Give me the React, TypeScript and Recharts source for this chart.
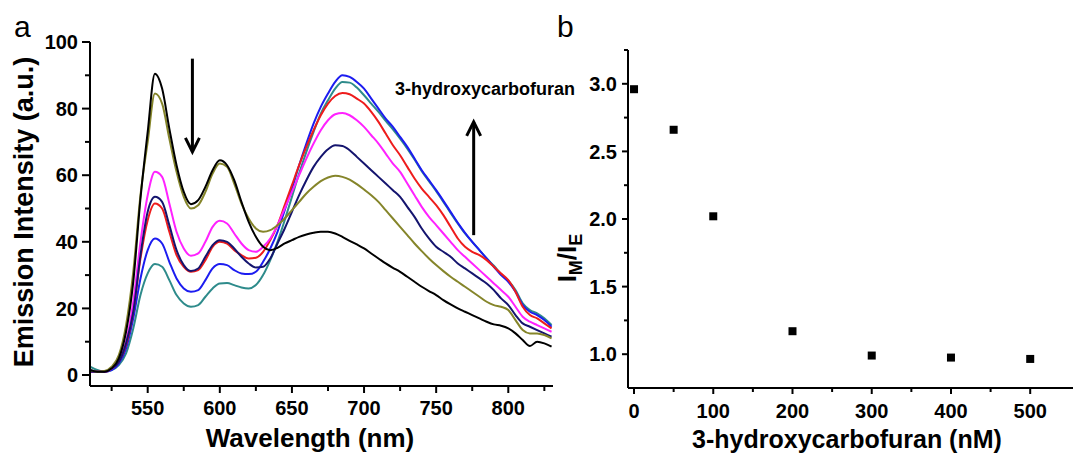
import { LineChart, Line, XAxis, YAxis, ScatterChart, Scatter, ReferenceLine } from "recharts";

const FONT = "'Liberation Sans', Arial, Helvetica, sans-serif";

// wavelength grid (nm)
const wavelengths = [
  510, 515, 520, 525, 530, 535, 540, 545, 550, 555, 560, 565, 570, 575, 580, 585, 590, 595, 600, 605,
  610, 615, 620, 625, 630, 635, 640, 645, 650, 655, 660, 665, 670, 675, 680, 685, 690, 695, 700, 705,
  710, 715, 720, 725, 730, 735, 740, 745, 750, 755, 760, 765, 770, 775, 780, 785, 790, 795, 800, 805,
  810, 815, 820, 825, 830,
];

const blackCurve = [
  1.5, 1, 1, 2, 5, 13, 28, 53, 73, 90.5, 86, 74, 63, 55, 51.3, 52.5, 56.5, 61.5, 64.5, 63,
  58.5, 52, 46, 41.5, 38.5, 37.5, 38.2, 39.5, 40.5, 41.5, 42.2, 42.7, 43, 43, 42.5, 41.5, 40.3, 39.2, 38, 36.5,
  35, 33.5, 32.2, 31, 29.5, 28, 26.5, 25.2, 24, 22.5, 21.2, 20, 19, 18, 17, 16, 15.2, 14.8, 14, 12.5,
  10.5, 8.7, 10, 9.5, 8.5,
];
const oliveCurve = [
  1.5, 1, 1.2, 2.5, 6, 15, 31, 54, 70, 84.5, 81.5, 71, 61, 53.5, 50, 51, 55, 60.5, 63.5, 62.5,
  57.5, 51.5, 47, 44, 43, 43.5, 45, 47, 49.5, 52, 54.5, 56.5, 58.2, 59.3, 59.8, 59.5, 58.7, 57.3, 55.7, 54,
  52, 49.5, 47, 44.5, 42, 39.5, 37.2, 35, 33, 31.2, 29.5, 28, 26.5, 25, 23.5, 22, 21, 20.5, 19.5, 16.5,
  13.5, 12.5, 12.5, 12, 11,
];
const navyCurve = [
  1, 1, 1, 2, 4, 9.5, 19, 36, 49, 53.5, 52, 45, 37.5, 33, 31.2, 32, 35.5, 39, 40.5, 40,
  38, 35.5, 33.5, 32.3, 32.5, 35, 39.5, 44, 49, 54, 58.5, 62.5, 65.5, 67.8, 69, 68.8, 67.5, 65.5, 63.5, 61.5,
  59.5, 57.5, 55.5, 53.5, 50.5, 47.5, 44, 41, 38.5, 37, 35.5, 33.5, 32, 30.5, 29, 27.5, 25.5, 23, 21, 18,
  15.5, 14.5, 13.5, 12.5, 11.5,
];
const redCurve = [
  1, 1, 1, 2, 4, 9, 19, 35, 46.5, 51.5, 50, 43, 36, 32.5, 31, 31.5, 34.5, 38.5, 40, 39.5,
  37.5, 36, 35, 35.2, 37, 40.5, 45, 51, 57, 63, 68.5, 73.5, 78, 81.5, 83.8, 84.7, 84.3, 83, 81.5, 79,
  76, 72.5, 69, 66, 62.5, 59, 56, 53.5, 51, 48, 44.5, 41, 38.5, 37, 36, 34.5, 32.5, 30.5, 28.5, 25,
  20.5, 18, 17, 15.5, 14,
];
const magentaCurve = [
  1, 1, 1, 2, 4.5, 10, 22, 40, 54, 61, 59.5, 51.5, 43, 38, 35.8, 36.5, 40, 44.5, 46.3, 45.5,
  42.5, 39.5, 37.5, 37, 38.5, 41, 45, 50, 55, 60, 65, 69.5, 73.5, 76.5, 78.3, 78.7, 78, 76.5, 74.5, 72,
  69.5, 66.5, 63.5, 61, 57.5, 54, 50.5, 47.5, 45, 42.5, 40, 37.5, 35.5, 33.5, 31.5, 29.5, 27.5, 25.5, 23.5, 20.5,
  17.5, 16, 15, 14, 13,
];
const blueCurve = [
  1.5, 1, 1, 1.5, 3.5, 8, 17, 29, 37.5, 41, 39.5, 34, 29, 26, 25, 25.5, 28.5, 32, 33.3, 33,
  31.5, 30.5, 30.3, 31, 34, 38, 43, 49.5, 56, 63, 69.5, 75.5, 80.5, 84.5, 88, 90, 89.5, 88, 86, 83,
  80, 77, 74.5, 71.5, 68.5, 65, 61.5, 58.5, 55.5, 52.3, 49, 45.7, 42.7, 40, 37.5, 35, 32.5, 30, 28, 25,
  21, 19, 18, 16.5, 14.5,
];
const tealCurve = [
  2.5, 1.5, 1, 1.5, 3, 6.5, 14, 24, 30.5, 33.3, 32.5, 28.5, 24, 21.5, 20.5, 21, 23.5, 26, 27.5, 27.6,
  27, 26.3, 26, 27, 30, 34.5, 40, 46.5, 53.5, 60.5, 67, 73, 78.5, 82.5, 86, 88, 87.8, 86.3, 84, 81.5,
  79, 76.3, 73.8, 71, 68, 64.7, 61.2, 58.2, 55.2, 52, 48.7, 45.5, 42.5, 40, 37.5, 35, 32.8, 30.3, 28.3, 25.5,
  21.5, 19.5, 18.5, 17, 15,
];

const seriesDefs = [
  { key: "teal", values: tealCurve, color: "#2e8b8b" },
  { key: "blue", values: blueCurve, color: "#1c1cf0" },
  { key: "red", values: redCurve, color: "#ee1c1c" },
  { key: "magenta", values: magentaCurve, color: "#ff22ff" },
  { key: "navy", values: navyCurve, color: "#14146e" },
  { key: "olive", values: oliveCurve, color: "#85852a" },
  { key: "black", values: blackCurve, color: "#000000" },
];

const spectra = wavelengths.map((nm, i) => {
  const row: Record<string, number> = { nm };
  seriesDefs.forEach((s) => (row[s.key] = s.values[i]));
  return row;
});

const leftXTicks = [525, 550, 575, 600, 625, 650, 675, 700, 725, 750, 775, 800, 825];
const leftYTicks = [0, 10, 20, 30, 40, 50, 60, 70, 80, 90, 100];

// ratio panel
const concentrations = [0, 50, 100, 200, 300, 400, 500];
const ratios = [2.96, 2.66, 2.02, 1.17, 0.99, 0.975, 0.965];
const ratioData = concentrations.map((c, i) => ({ x: c, y: ratios[i] }));
const rightXTicks = [0, 50, 100, 150, 200, 250, 300, 350, 400, 450, 500];
const rightYTicks = [1.0, 1.25, 1.5, 1.75, 2.0, 2.25, 2.5, 2.75, 3.0, 3.25];

const tickText = { fontFamily: FONT, fontWeight: 700, fontSize: 20, fill: "#000" };

function LeftXTick({ x, y, payload }: any) {
  const major = payload.value % 50 === 0;
  return (
    <g>
      <line x1={x} x2={x} y1={y} y2={y + (major ? 7 : 5)} stroke="#000" strokeWidth={2} />
      {major && (
        <text x={x} y={y + 29} textAnchor="middle" {...tickText}>
          {payload.value}
        </text>
      )}
    </g>
  );
}

function LeftYTick({ x, y, payload }: any) {
  const major = payload.value % 20 === 0;
  return (
    <g>
      <line x1={x} x2={x - (major ? 8 : 5)} y1={y} y2={y} stroke="#000" strokeWidth={2} />
      {major && (
        <text x={x - 12} y={y} dy="0.36em" textAnchor="end" {...tickText}>
          {payload.value}
        </text>
      )}
    </g>
  );
}

function RightXTick({ x, y, payload }: any) {
  const major = payload.value % 100 === 0;
  return (
    <g>
      <line x1={x} x2={x} y1={y} y2={y + (major ? 6 : 4)} stroke="#000" strokeWidth={2} />
      {major && (
        <text x={x} y={y + 30} textAnchor="middle" {...tickText}>
          {payload.value}
        </text>
      )}
    </g>
  );
}

function RightYTick({ x, y, payload }: any) {
  const v = payload.value;
  const major = Math.abs(v * 2 - Math.round(v * 2)) < 1e-6;
  return (
    <g>
      <line x1={x} x2={x - (major ? 6 : 4)} y1={y} y2={y} stroke="#000" strokeWidth={2} />
      {major && v < 3.2 && (
        <text x={x - 11} y={y} dy="0.36em" textAnchor="end" {...tickText}>
          {v.toFixed(1)}
        </text>
      )}
    </g>
  );
}

function ArrowShape(props: any) {
  const { x1, y1, x2, y2 } = props;
  const dir = y2 > y1 ? 1 : -1;
  return (
    <g>
      <line x1={x1} y1={y1} x2={x2} y2={y2} stroke="#000" strokeWidth={3} />
      <polyline
        points={`${x2 - 7},${y2 - dir * 14} ${x2},${y2} ${x2 + 7},${y2 - dir * 14}`}
        fill="none"
        stroke="#000"
        strokeWidth={3}
      />
    </g>
  );
}

const axisLine = { stroke: "#000", strokeWidth: 2 };
const titleStyle = { fontFamily: FONT, fontWeight: 700, fontSize: 26, fill: "#000" } as const;

export default function App() {
  return (
    <div style={{ position: "absolute", left: 0, top: 0, width: 1073, height: 456, background: "#fff" }}>
      <div style={{ position: "absolute", left: 0, top: 0 }}>
        <LineChart width={560} height={456} data={spectra} margin={{ top: 42, right: 7, bottom: 0, left: 0 }}>
          <XAxis
            type="number"
            dataKey="nm"
            domain={[510, 831]}
            allowDataOverflow
            ticks={leftXTicks}
            interval={0}
            height={70}
            tickSize={0}
            tickMargin={0}
            axisLine={axisLine}
            tickLine={false}
            tick={<LeftXTick />}
          />
          <YAxis
            type="number"
            domain={[-3.3, 100]}
            allowDataOverflow
            ticks={leftYTicks}
            interval={0}
            width={90}
            tickSize={0}
            tickMargin={0}
            axisLine={axisLine}
            tickLine={false}
            tick={<LeftYTick />}
          />
          {seriesDefs.map((s) => (
            <Line
              key={s.key}
              type="monotone"
              dataKey={s.key}
              stroke={s.color}
              strokeWidth={2}
              dot={false}
              isAnimationActive={false}
            />
          ))}
          <ReferenceLine
            segment={[
              { x: 581, y: 95 },
              { x: 581, y: 67 },
            ]}
            shape={ArrowShape}
          />
          <ReferenceLine
            segment={[
              { x: 776, y: 42 },
              { x: 776, y: 76 },
            ]}
            shape={ArrowShape}
          />
        </LineChart>
      </div>
      <div style={{ position: "absolute", left: 540, top: 0 }}>
        <ScatterChart width={533} height={456} margin={{ top: 50, right: 0, bottom: 0, left: 0 }}>
          <XAxis
            type="number"
            dataKey="x"
            domain={[-7.6, 554]}
            allowDataOverflow
            ticks={rightXTicks}
            interval={0}
            height={68}
            tickSize={0}
            tickMargin={0}
            axisLine={axisLine}
            tickLine={false}
            tick={<RightXTick />}
          />
          <YAxis
            type="number"
            dataKey="y"
            domain={[0.75, 3.25]}
            allowDataOverflow
            ticks={rightYTicks}
            interval={0}
            width={88}
            tickSize={0}
            tickMargin={0}
            axisLine={axisLine}
            tickLine={false}
            tick={<RightYTick />}
          />
          <Scatter
            data={ratioData}
            isAnimationActive={false}
            shape={(p: any) => <rect x={p.cx - 4} y={p.cy - 4} width={8} height={8} fill="#000" />}
          />
        </ScatterChart>
      </div>
      <svg
        width={1073}
        height={456}
        style={{ position: "absolute", left: 0, top: 0, pointerEvents: "none" }}
      >
        <text x={14} y={37} style={{ fontFamily: FONT, fontSize: 30, fill: "#000" }}>
          a
        </text>
        <text x={557} y={37} style={{ fontFamily: FONT, fontSize: 30, fill: "#000" }}>
          b
        </text>
        <text x={395} y={95} style={{ fontFamily: FONT, fontWeight: 700, fontSize: 18, fill: "#000" }}>
          3-hydroxycarbofuran
        </text>
        <text
          x={33}
          y={212}
          textAnchor="middle"
          transform="rotate(-90 33 212)"
          style={{ ...titleStyle, fontSize: 27 }}
        >
          Emission Intensity (a.u.)
        </text>
        <text x={310} y={447} textAnchor="middle" style={titleStyle}>
          Wavelength (nm)
        </text>
        <text x={847} y={448} textAnchor="middle" style={{ ...titleStyle, fontSize: 25 }}>
          3-hydroxycarbofuran (nM)
        </text>
        <text x={576} y={258} textAnchor="middle" transform="rotate(-90 576 258)" style={titleStyle}>
          <tspan fontSize={26}>I</tspan>
          <tspan fontSize={18} dy={6}>M</tspan>
          <tspan fontSize={26} dy={-6}>/I</tspan>
          <tspan fontSize={18} dy={6}>E</tspan>
        </text>
      </svg>
    </div>
  );
}
